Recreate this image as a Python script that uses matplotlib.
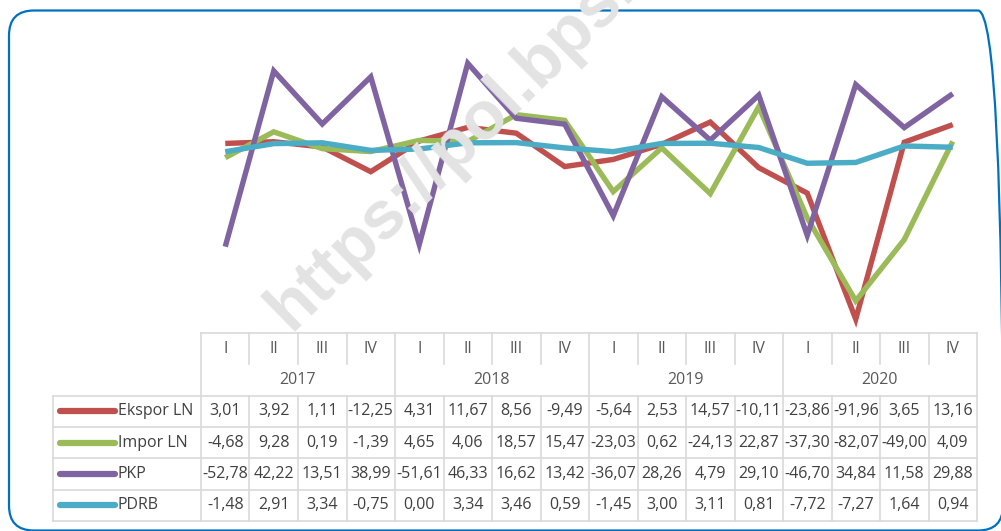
import matplotlib
matplotlib.use("Agg")
import matplotlib.pyplot as plt
from matplotlib.patches import FancyBboxPatch
from matplotlib.transforms import IdentityTransform
import numpy as np

quarters = ['I', 'II', 'III', 'IV'] * 4
years = ['2017', '2018', '2019', '2020']
series_names = ['Ekspor LN', 'Impor LN', 'PKP', 'PDRB']
ekspor = [3.01, 3.92, 1.11, -12.25, 4.31, 11.67, 8.56, -9.49, -5.64, 2.53, 14.57, -10.11, -23.86, -91.96, 3.65, 13.16]
impor = [-4.68, 9.28, 0.19, -1.39, 4.65, 4.06, 18.57, 15.47, -23.03, 0.62, -24.13, 22.87, -37.30, -82.07, -49.00, 4.09]
pkp = [-52.78, 42.22, 13.51, 38.99, -51.61, 46.33, 16.62, 13.42, -36.07, 28.26, 4.79, 29.10, -46.70, 34.84, 11.58, 29.88]
pdrb = [-1.48, 2.91, 3.34, -0.75, 0.00, 3.34, 3.46, 0.59, -1.45, 3.00, 3.11, 0.81, -7.72, -7.27, 1.64, 0.94]
colors = ['#C0504D', '#9BBB59', '#8064A2', '#4BACC6']
data = [ekspor, impor, pkp, pdrb]
watermark = 'https://pol.bps.go.id'

FONT = 'Open Sans'
W, H = 1001, 531
fig = plt.figure(figsize=(W / 100, H / 100), dpi=100)
fig.patch.set_facecolor('white')

# rounded border
box = FancyBboxPatch((9, 0.5), 994, 520, boxstyle="round,pad=0,rounding_size=25",
                     transform=IdentityTransform(), fill=False, ec='#0070C0', lw=1.6,
                     zorder=0)
fig.patches.append(box)

# watermark
fig.text(290 / W, 1 - 332 / H, watermark, rotation=44.5, rotation_mode='anchor',
         ha='left', va='baseline', fontsize=49, fontweight='bold', color='#e3e3e3',
         family='Liberation Sans', zorder=1)

col_w = 48.5
x_left_data = 201
n = len(quarters)

# chart axes
ax = fig.add_axes([x_left_data / W, 1 - 334 / H, n * col_w / W, (334 - 38) / H])
ax.patch.set_alpha(0)
x = np.arange(n)
for vals, c in zip(data, colors):
    ax.plot(x, vals, color=c, lw=3.9, solid_joinstyle='miter', solid_capstyle='butt')
ax.set_xlim(-0.5, n - 0.5)
ax.set_ylim(-100, 60)
ax.axis('off')

# table axes
label_left = 53
tx0 = -0.5 - (x_left_data - label_left) / col_w
tax = fig.add_axes([label_left / W, 1 - 521 / H, (x_left_data + n * col_w - label_left) / W, (521 - 333) / H])
tax.patch.set_alpha(0)
tax.set_xlim(tx0, n - 0.5)
tax.set_ylim(6, 0)
tax.axis('off')
gc = '#d9d9d9'
glw = 1.2
tax.plot([-0.5, n - 0.5], [0, 0], color=gc, lw=glw, clip_on=False)
for i in range(1, n):
    if i % 4 == 0:
        tax.plot([i - 0.5, i - 0.5], [0, 6], color=gc, lw=glw, clip_on=False)
    else:
        tax.plot([i - 0.5, i - 0.5], [0, 1], color=gc, lw=glw, clip_on=False)
        tax.plot([i - 0.5, i - 0.5], [2, 6], color=gc, lw=glw, clip_on=False)
for xv in (-0.5, n - 0.5):
    tax.plot([xv, xv], [0, 6], color=gc, lw=glw, clip_on=False)
tax.plot([tx0, tx0], [2, 6], color=gc, lw=glw, clip_on=False)
for r in range(2, 7):
    tax.plot([tx0, n - 0.5], [r, r], color=gc, lw=glw, clip_on=False)

txt_kw = dict(family=FONT, fontsize=11.5, ha='center', va='center')
for i, q in enumerate(quarters):
    tax.text(i, 0.5, q, color='#595959', **txt_kw)
for k, yr in enumerate(years):
    tax.text(4 * k + 1.5, 1.5, yr, color='#595959', **txt_kw)
for r, (name, vals, c) in enumerate(zip(series_names, data, colors)):
    yy = 2.5 + r
    for i, v in enumerate(vals):
        tax.text(i, yy, f"{v:.2f}".replace('.', ','), color='#404040', **txt_kw)
    tax.plot([tx0 + 0.15, tx0 + 1.28], [yy, yy], color=c, lw=4.5, solid_capstyle='round',
             clip_on=False)
    tax.text(tx0 + 1.33, yy, name, color='#404040', family=FONT, fontsize=11.5,
             ha='left', va='center')

fig.savefig('out.png', dpi=100, facecolor='white')
